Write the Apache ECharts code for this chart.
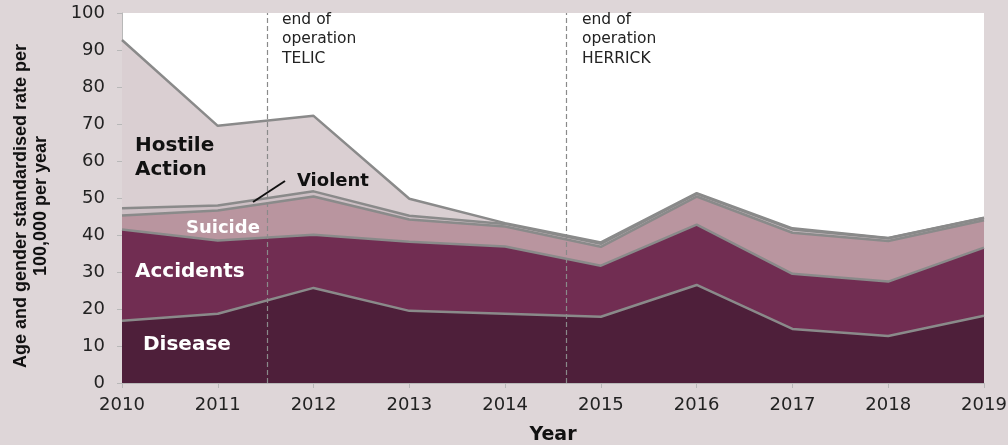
<!DOCTYPE html>
<html>
<head>
<meta charset="utf-8">
<script src="https://cdn.jsdelivr.net/npm/echarts@6/dist/echarts.min.js"></script>
<style>
  html, body { margin: 0; padding: 0; background: #ded6d8; }
  #chart { width: 1008px; height: 445px; }
</style>
</head>
<body>
<div id="chart"></div>
<script>
const years = ['2010', '2011', '2012', '2013', '2014', '2015', '2016', '2017', '2018', '2019']
// rates per 100,000 per year, stacked bottom to top
const disease   = [16.8, 18.7, 25.7, 19.5, 18.7, 17.9, 26.5, 14.6, 12.7, 18.2]
const accidents = [24.7, 19.8, 14.4, 18.7, 18.2, 13.8, 16.3, 14.9, 14.7, 18.4]
const suicide   = [3.8, 8.1, 10.3, 6.0, 5.4, 5.1, 7.6, 11.1, 11.0, 7.4]
const violent   = [1.9, 1.4, 1.4, 1.0, 0.7, 0.8, 0.7, 0.9, 0.7, 0.6]
const hostile   = [45.5, 21.5, 20.4, 4.6, 0.2, 0.4, 0.2, 0.3, 0.1, 0.1]
// operation end dates (fractional year on a hidden value axis)
const operationEnds = [2011.52, 2014.64]

const chart = echarts.init(document.getElementById('chart'))
const font = '"DejaVu Sans", Verdana, sans-serif'

const areaSeries = (name, data, color) => ({
  name,
  type: 'line',
  stack: 'total',
  data,
  symbol: 'none',
  lineStyle: { color: '#8a8a8a', width: 2.5 },
  areaStyle: { color, opacity: 1 },
  z: 2
})

const txt = (left, top, text, size, color, weight) => ({
  type: 'text',
  left, top,
  style: { text, fill: color, font: `${weight || 'bold'} ${size}px ${font}`, lineHeight: size + 4 },
  z: 10
})

chart.setOption({
  backgroundColor: '#ded6d8',
  animation: false,
  grid: {
    left: 122, right: 24, top: 13, bottom: 62,
    containLabel: false,
    outerBoundsMode: 'none',
    show: true, backgroundColor: '#ffffff', borderWidth: 0
  },
  xAxis: [{
    type: 'category',
    data: years,
    boundaryGap: false,
    name: 'Year',
    nameLocation: 'middle',
    nameGap: 43,
    nameTextStyle: { color: '#111', fontFamily: font, fontSize: 19, fontWeight: 'bold' },
    axisLine: { lineStyle: { color: '#b8b8b8', width: 1 } },
    axisTick: { show: true, alignWithLabel: true, length: 5, lineStyle: { color: '#b8b8b8' } },
    axisLabel: { color: '#222', fontFamily: font, fontSize: 18, margin: 13 },
    splitLine: { show: false }
  }, {
    type: 'value',
    min: 2010, max: 2019,
    show: false
  }],
  yAxis: {
    type: 'value',
    min: 0, max: 100, interval: 10,
    name: 'Age and gender standardised rate per\n100,000 per year',
    nameLocation: 'middle',
    nameGap: 71,
    nameTextStyle: {
      color: '#111', fontFamily: '"Liberation Sans", Arial, sans-serif',
      fontSize: 18, fontWeight: 'bold', lineHeight: 20,
      padding: [0, 16, 0, 0]
    },
    axisLine: { show: true, lineStyle: { color: '#b8b8b8', width: 1 } },
    axisTick: { show: true, length: 5, lineStyle: { color: '#b8b8b8' } },
    axisLabel: { color: '#222', fontFamily: font, fontSize: 18, margin: 17 },
    splitLine: { show: false }
  },
  series: [
    areaSeries('Disease', disease, '#4e1f3a'),
    areaSeries('Accidents', accidents, '#712d52'),
    areaSeries('Suicide', suicide, '#b9959f'),
    areaSeries('Violent', violent, '#cdbfc4'),
    areaSeries('Hostile Action', hostile, '#dacfd2'),
    {
      type: 'line',
      xAxisIndex: 1,
      data: [],
      markLine: {
        symbol: 'none',
        silent: true,
        label: { show: false },
        lineStyle: { color: '#8a8a8a', type: [5, 3], width: 1.2 },
        data: operationEnds.map(v => ({ xAxis: v }))
      },
      z: 5
    }
  ],
  graphic: [
    txt(282, 10, 'end of\noperation\nTELIC', 15.5, '#222', 'normal'),
    txt(582, 10, 'end of\noperation\nHERRICK', 15.5, '#222', 'normal'),
    txt(135, 134, 'Hostile\nAction', 20, '#111'),
    txt(297, 170, 'Violent', 18, '#111'),
    txt(186, 217, 'Suicide', 18, '#ffffff'),
    txt(135, 260, 'Accidents', 20, '#ffffff'),
    txt(143, 333, 'Disease', 20, '#ffffff'),
    {
      type: 'line',
      shape: { x1: 253, y1: 202, x2: 285, y2: 181 },
      style: { stroke: '#111', lineWidth: 2 },
      z: 10
    }
  ]
})
</script>
</body>
</html>
